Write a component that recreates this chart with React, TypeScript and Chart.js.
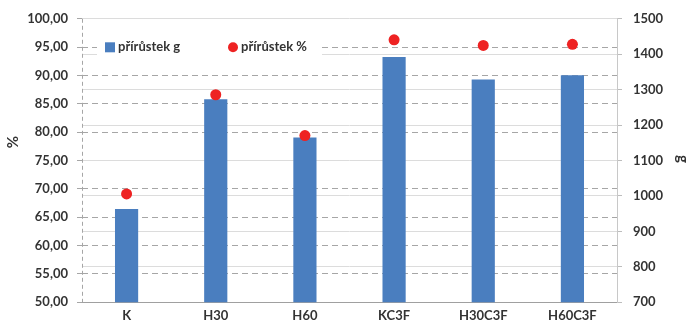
import React, { useEffect, useRef } from "react";
import { Chart, registerables } from "chart.js";

Chart.register(...registerables);

const categories = ["K", "H30", "H60", "KC3F", "H30C3F", "H60C3F"];
const gainGrams = [963, 1273, 1165, 1392, 1329, 1341];
const gainPercent = [69.1, 86.6, 79.4, 96.3, 95.3, 95.5];
const leftTitle = "%";
const rightTitle = "g";
const labelG = "přírůstek g";
const labelPct = "přírůstek %";

const FONT = "Lato, 'Liberation Sans', sans-serif";
const TEXT = "#333333";

const overlayPlugin = {
  id: "overlay",
  afterDraw(chart: any) {
    const ctx = chart.ctx as CanvasRenderingContext2D;
    const area = chart.chartArea;
    ctx.save();
    // left dashed axis line
    ctx.strokeStyle = "#a6a6a6";
    ctx.lineWidth = 1;
    ctx.setLineDash([4, 3]);
    ctx.beginPath();
    ctx.moveTo(area.left + 0.5, area.top);
    ctx.lineTo(area.left + 0.5, area.bottom);
    ctx.stroke();
    ctx.setLineDash([]);

    // legend
    const ds = chart.data.datasets;
    const barDs = ds.find((d: any) => d.type !== "line");
    const dotDs = ds.find((d: any) => d.type === "line");
    ctx.fillStyle = "#ffffff";
    ctx.fillRect(area.left + 15, area.top + 18, 225, 21);
    ctx.font = `bold 13px ${FONT}`;
    ctx.textBaseline = "middle";
    ctx.textAlign = "left";
    const ly = area.top + 28.5;
    ctx.fillStyle = barDs.backgroundColor;
    ctx.fillRect(area.left + 23, ly - 5, 10, 10);
    ctx.fillStyle = TEXT;
    ctx.fillText(barDs.label, area.left + 36, ly);
    ctx.fillStyle = dotDs.backgroundColor;
    ctx.beginPath();
    ctx.arc(area.left + 151, ly, 5, 0, Math.PI * 2);
    ctx.fill();
    ctx.fillStyle = TEXT;
    ctx.fillText(dotDs.label, area.left + 159, ly);

    // axis titles
    ctx.font = `bold 15px ${FONT}`;
    ctx.textAlign = "center";
    ctx.save();
    ctx.translate(13, 142);
    ctx.rotate(-Math.PI / 2);
    ctx.fillText(leftTitle, 0, 0);
    ctx.restore();
    ctx.save();
    ctx.translate(683, 159);
    ctx.rotate(Math.PI / 2);
    ctx.fillText(rightTitle, 0, 0);
    ctx.restore();
    ctx.restore();
  },
};

export default function App() {
  const ref = useRef<HTMLCanvasElement>(null);
  useEffect(() => {
    document.body.style.margin = "0";
    const chart = new Chart(ref.current!, {
      type: "bar",
      data: {
        labels: categories,
        datasets: [
          {
            type: "line",
            label: labelPct,
            data: gainPercent,
            yAxisID: "y",
            showLine: false,
            backgroundColor: "#ee2222",
            borderColor: "#ee2222",
            pointRadius: 5.5,
            pointBorderWidth: 0,
            order: 0,
          } as any,
          {
            type: "bar",
            label: labelG,
            data: gainGrams,
            yAxisID: "y1",
            backgroundColor: "#4a7ebf",
            categoryPercentage: 1,
            barPercentage: 0.26,
            order: 1,
          },
        ],
      },
      options: {
        responsive: false,
        animation: false,
        layout: { padding: { top: 17, left: 0, right: 0, bottom: 0 } },
        plugins: { legend: { display: false }, tooltip: { enabled: false } },
        scales: {
          x: {
            position: "bottom",
            afterFit: (s: any) => {
              s.height = 18;
            },
            grid: { display: false, drawTicks: false },
            border: { color: "#a0a0a0" },
            ticks: {
              padding: 6,
              color: TEXT,
              font: { family: FONT, size: 13, weight: "bold" },
            },
          },
          y: {
            position: "left",
            min: 50,
            max: 100,
            afterFit: (s: any) => {
              s.width = 82;
            },
            grid: {
              color: "#a6a6a6",
              drawTicks: true,
              tickLength: 5,
              tickColor: "#a6a6a6",
              tickBorderDash: [],
            },
            border: { display: false, dash: [6, 4] },
            ticks: {
              stepSize: 5,
              padding: 9,
              color: TEXT,
              font: { family: FONT, size: 13, weight: "bold" },
              callback: (v: any) => Number(v).toFixed(2).replace(".", ","),
            },
          },
          y1: {
            position: "right",
            min: 700,
            max: 1500,
            afterFit: (s: any) => {
              s.width = 74;
            },
            grid: {
              color: "#dcdcdc",
              drawTicks: true,
              tickLength: 5,
              tickColor: "#bdbdbd",
            },
            border: { color: "#c8c8c8" },
            ticks: {
              stepSize: 100,
              padding: 11,
              color: TEXT,
              font: { family: FONT, size: 13, weight: "bold" },
              callback: (v: any) => String(Math.round(Number(v))),
            },
          },
        },
      },
      plugins: [overlayPlugin],
    });
    return () => chart.destroy();
  }, []);
  return (
    <div style={{ width: 691, height: 321 }}>
      <canvas ref={ref} width={691} height={321} />
    </div>
  );
}
